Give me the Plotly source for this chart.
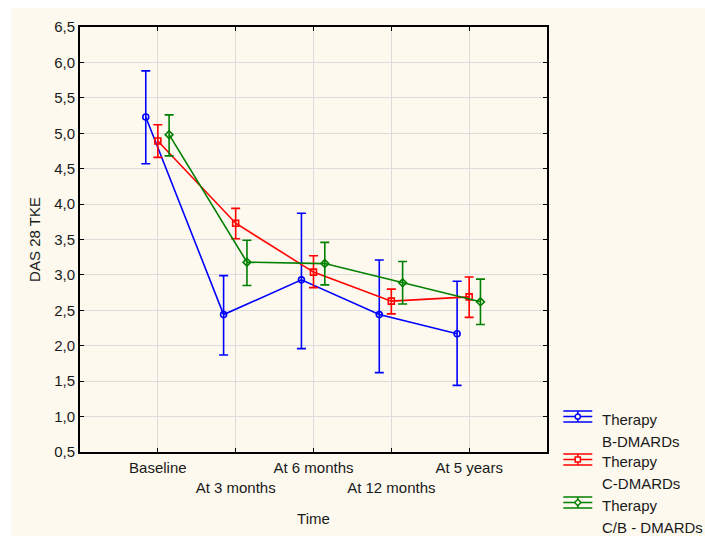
import numpy as np
import plotly.graph_objects as go

# Time points and their axis labels
time_labels = ["Baseline", "At 3 months", "At 6 months", "At 12 months", "At 5 years"]

# DAS 28 TKE means with upper / lower confidence limits per therapy group
b_mean = [5.23, 2.44, 2.93, 2.44, 2.17]
b_upper = [5.88, 2.99, 3.87, 3.21, 2.91]
b_lower = [4.57, 1.87, 1.96, 1.62, 1.44]

c_mean = [4.89, 3.73, 3.04, 2.63, 2.69]
c_upper = [5.12, 3.94, 3.27, 2.80, 2.97]
c_lower = [4.66, 3.51, 2.82, 2.45, 2.40]

cb_mean = [4.98, 3.18, 3.16, 2.89, 2.62]
cb_upper = [5.26, 3.49, 3.46, 3.19, 2.94]
cb_lower = [4.68, 2.85, 2.86, 2.59, 2.30]

groups = [
    ("Therapy", "B-DMARDs", b_mean, b_upper, b_lower, "#0000ff", "circle-open", -0.155),
    ("Therapy", "C-DMARDs", c_mean, c_upper, c_lower, "#ff0000", "square-open", 0.0),
    ("Therapy", "C/B - DMARDs", cb_mean, cb_upper, cb_lower, "#008000", "diamond-open", 0.145),
]

W, H = 705, 536
ML, MR, MT, MB = 79.5, 158.3, 27, 84
PW, PH = W - ML - MR, H - MT - MB
FONT = "Liberation Sans, Arial, sans-serif"
FS = 15
CREAM = "#fdf9ee"


def px(x):
    return (x - ML) / PW


def py(y):
    return (H - MB - y) / PH


fig = go.Figure()
pos = np.arange(1, len(time_labels) + 1)

for l1, l2, mean, up, lo, col, sym, off in groups:
    mean = np.array(mean)
    fig.add_trace(go.Scatter(
        x=pos + off, y=mean, mode="lines+markers",
        name=f"{l1} {l2}", showlegend=False,
        line=dict(color=col, width=1.6),
        marker=dict(symbol=sym, size=6, color=col, line=dict(color=col, width=1.6)),
        error_y=dict(type="data", symmetric=False,
                     array=np.array(up) - mean, arrayminus=mean - np.array(lo),
                     color=col, thickness=1.6, width=4.5),
    ))

shapes = [
    # cream page background (white strip left/top)
    dict(type="rect", xref="paper", yref="paper", layer="below",
         x0=px(11), x1=px(W + 5), y0=py(H + 5), y1=py(8),
         fillcolor=CREAM, line=dict(width=0)),
]
annotations = []

# legend: error-bar glyph with marker, two-line label
for i, (l1, l2, mean, up, lo, col, sym, off) in enumerate(groups):
    cy = 416.5 + i * 43
    x0, x1, xc = 563, 592, 577.5
    for dy in (-5.5, 0, 5.5):
        shapes.append(dict(type="line", xref="paper", yref="paper",
                           x0=px(x0), x1=px(x1), y0=py(cy + dy), y1=py(cy + dy),
                           line=dict(color=col, width=1.5)))
    shapes.append(dict(type="line", xref="paper", yref="paper",
                       x0=px(xc), x1=px(xc), y0=py(cy - 5.5), y1=py(cy + 5.5),
                       line=dict(color=col, width=1.5)))
    r = 2.6
    if sym.startswith("circle"):
        shapes.append(dict(type="circle", xref="paper", yref="paper",
                           x0=px(xc - r), x1=px(xc + r), y0=py(cy + r), y1=py(cy - r),
                           fillcolor=CREAM, line=dict(color=col, width=1.5)))
    elif sym.startswith("square"):
        shapes.append(dict(type="rect", xref="paper", yref="paper",
                           x0=px(xc - r), x1=px(xc + r), y0=py(cy + r), y1=py(cy - r),
                           fillcolor=CREAM, line=dict(color=col, width=1.5)))
    else:
        r = 3.2
        path = (f"M {px(xc - r)},{py(cy)} L {px(xc)},{py(cy - r)} "
                f"L {px(xc + r)},{py(cy)} L {px(xc)},{py(cy + r)} Z")
        shapes.append(dict(type="path", xref="paper", yref="paper", path=path,
                           fillcolor=CREAM, line=dict(color=col, width=1.5)))
    for j, txt in enumerate((l1, l2)):
        annotations.append(dict(
            text=txt, xref="paper", yref="paper", x=px(600), y=py(cy + 2.5 + j * 22),
            xanchor="left", yanchor="middle", showarrow=False,
            font=dict(family=FONT, size=FS, color="#1a1a1a")))

fig.update_layout(
    width=W, height=H,
    margin=dict(l=ML, r=MR, t=MT, b=MB, autoexpand=False),
    paper_bgcolor="white", plot_bgcolor="white",
    separators=",.",
    font=dict(family=FONT, size=FS, color="#1a1a1a"),
    showlegend=False,
    shapes=shapes, annotations=annotations,
    xaxis=dict(
        range=[0, len(time_labels) + 1], tickvals=pos,
        ticktext=[t if k % 2 == 0 else "<br>" + t for k, t in enumerate(time_labels)],
        showgrid=True, gridcolor="#dcdcdc", gridwidth=1,
        showline=True, linecolor="black", linewidth=2, mirror="ticks",
        ticks="inside", ticklen=4, tickcolor="black", tickwidth=1,
        zeroline=False, tickangle=0, ticklabelstandoff=1,
        title=dict(text="Time", standoff=19, font=dict(size=FS)),
    ),
    yaxis=dict(
        range=[0.5, 6.5], dtick=0.5, tick0=0.5, tickformat=".1f",
        showgrid=True, gridcolor="#dcdcdc", gridwidth=1,
        showline=True, linecolor="black", linewidth=2, mirror="ticks",
        ticks="inside", ticklen=4, tickcolor="black", tickwidth=1,
        zeroline=False,
        title=dict(text="DAS 28 TKE", standoff=10, font=dict(size=FS)),
    ),
)

fig.write_html("out.html")
